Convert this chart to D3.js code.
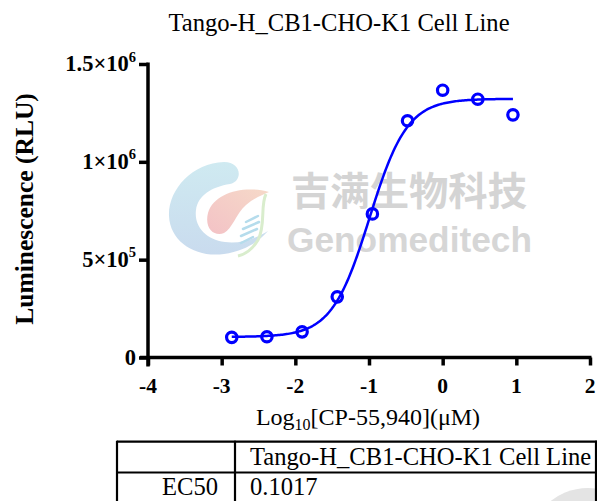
<!DOCTYPE html>
<html>
<head>
<meta charset="utf-8">
<script src="https://cdn.jsdelivr.net/npm/d3@7"></script>
<style>
  html, body { margin: 0; padding: 0; background: #ffffff; }
  svg { display: block; }
</style>
</head>
<body>
<svg id="chart" width="597" height="501"></svg>
<script>
// ---------------- data ----------------
const chartTitle = "Tango-H_CB1-CHO-K1 Cell Line";
const logConc = [-2.863, -2.386, -1.908, -1.431, -0.954, -0.477, 0.0, 0.477, 0.954];
const rlu = [103000, 106000, 131000, 310000, 734000, 1210000, 1366000, 1320000, 1240000];
// fitted 4PL parameters
const fitBottom = 105000;
const fitTop = 1322000;
const fitEC50 = 0.1017;
const fitHill = 1.7;
const xTickValues = [-4, -3, -2, -1, 0, 1, 2];
const xTickLabels = ["-4", "-3", "-2", "-1", "0", "1", "2"];
const yTickValues = [0, 500000, 1000000, 1500000];
const yTickMantissa = ["0", "5×10", "1×10", "1.5×10"];
const yTickExponent = ["", "5", "6", "6"];
const tableHeader = ["", "Tango-H_CB1-CHO-K1 Cell Line"];
const tableRow = ["EC50", "0.1017"];

// ---------------- setup ----------------
const svg = d3.select("#chart");
const serif = "'Liberation Serif', 'Times New Roman', serif";
const x = d3.scaleLinear().domain([-4, 2]).range([148, 590]);
const y = d3.scaleLinear().domain([0, 1500000]).range([357.5, 64]);

// ---------------- watermark ----------------
const wm = svg.append("g").attr("class", "watermark");
const defs = svg.append("defs");
const gBlue = defs.append("linearGradient").attr("id", "gblue").attr("x1", 0).attr("y1", 0).attr("x2", 0).attr("y2", 1);
gBlue.append("stop").attr("offset", "0%").attr("stop-color", "#cfeaf1");
gBlue.append("stop").attr("offset", "100%").attr("stop-color", "#c9dbee");
const gPink = defs.append("linearGradient").attr("id", "gpink").attr("x1", 1).attr("y1", 0).attr("x2", 0).attr("y2", 1);
gPink.append("stop").attr("offset", "0%").attr("stop-color", "#f6d9c8");
gPink.append("stop").attr("offset", "100%").attr("stop-color", "#f3c2c6");

wm.append("path")
  .attr("d", "M 224 162 C 192 163 168 190 169 216 C 170 242 196 258 224 254 C 245 251 258 242 268 231 C 255 239 240 244 225 242 C 205 239 194 226 196 210 C 198 195 212 187 230 184 C 243 181 242 162 224 162 Z")
  .attr("fill", "url(#gblue)");
wm.append("path")
  .attr("d", "M 269 192 C 245 185 214 192 208 213 C 204 229 215 237 224 233 C 232 229 236 214 246 205 C 254 198 262 195 269 192 Z")
  .attr("fill", "url(#gpink)");
wm.append("path")
  .attr("d", "M 266 194 C 260 206 266 225 258 240 C 252 250 246 254 238 256")
  .attr("fill", "none").attr("stroke", "#d9edcd").attr("stroke-width", 3);
[[246, 222, 258, 216], [243, 229, 259, 222], [241, 236, 257, 229], [241, 243, 253, 237]].forEach(s => {
  wm.append("line").attr("x1", s[0]).attr("y1", s[1]).attr("x2", s[2]).attr("y2", s[3])
    .attr("stroke", "#b5dcec").attr("stroke-width", 2.5).attr("stroke-linecap", "round");
});
wm.append("text")
  .attr("x", 291).attr("y", 205)
  .attr("font-family", "'Noto Sans CJK SC', sans-serif").attr("font-weight", "bold")
  .attr("font-size", 39).attr("fill", "#d4d4d4")
  .attr("textLength", 236).attr("lengthAdjust", "spacingAndGlyphs")
  .text("吉满生物科技");
wm.append("text")
  .attr("x", 287).attr("y", 251.5)
  .attr("font-family", "'Liberation Sans', Arial, sans-serif").attr("font-weight", "bold")
  .attr("font-size", 35).attr("fill", "#d6d6d6")
  .attr("textLength", 245).attr("lengthAdjust", "spacingAndGlyphs")
  .text("Genomeditech");
// grey partial disc at bottom right
wm.append("circle").attr("cx", 588).attr("cy", 548).attr("r", 60).attr("fill", "#e4e4e4");

// ---------------- title ----------------
svg.append("text")
  .attr("x", 339).attr("y", 31)
  .attr("text-anchor", "middle")
  .attr("font-family", serif).attr("font-size", 24.6).attr("fill", "#000")
  .text(chartTitle);

// ---------------- axes ----------------
const xAxis = d3.axisBottom(x).tickValues(xTickValues).tickSize(8).tickSizeOuter(0).tickFormat("");
const gx = svg.append("g").attr("transform", `translate(0,${y(0)})`).call(xAxis);
gx.select(".domain").attr("stroke", "#000").attr("stroke-width", 3.5).attr("d", `M${x(-4) - 8},0H${x(2) + 1.5}`);
gx.selectAll(".tick line").attr("stroke", "#000").attr("stroke-width", 3.5);

const yAxis = d3.axisLeft(y).tickValues(yTickValues).tickSize(9).tickSizeOuter(0).tickFormat("");
const gy = svg.append("g").attr("transform", `translate(${x(-4)},0)`).call(yAxis);
gy.select(".domain").attr("stroke", "#000").attr("stroke-width", 3.5).attr("d", `M0,${y(1500000) - 1.5}V${y(0) + 9}`);
gy.selectAll(".tick line").attr("stroke", "#000").attr("stroke-width", 3.5);

// x tick labels
svg.append("g").selectAll("text").data(xTickValues).join("text")
  .attr("x", d => x(d)).attr("y", 393)
  .attr("text-anchor", "middle")
  .attr("font-family", serif).attr("font-weight", "bold").attr("font-size", 21.5)
  .text((d, i) => xTickLabels[i]);

// y tick labels
const ylab = svg.append("g").selectAll("text").data(yTickValues).join("text")
  .attr("x", 136).attr("y", d => y(d) + 7)
  .attr("text-anchor", "end")
  .attr("font-family", serif).attr("font-weight", "bold").attr("font-size", 22.5);
ylab.append("tspan").text((d, i) => yTickMantissa[i]);
ylab.append("tspan").attr("font-size", 14.5).attr("dy", -9.5).text((d, i) => yTickExponent[i]);

// axis titles
const xt = svg.append("text")
  .attr("x", 368).attr("y", 425)
  .attr("text-anchor", "middle")
  .attr("font-family", serif).attr("font-size", 24);
xt.append("tspan").text("Log");
xt.append("tspan").attr("font-size", 16).attr("dy", 5).text("10");
xt.append("tspan").attr("dy", -5).text("[CP-55,940](μM)");

svg.append("text")
  .attr("transform", "translate(33,209) rotate(-90)")
  .attr("text-anchor", "middle")
  .attr("font-family", serif).attr("font-weight", "bold").attr("font-size", 25.5)
  .text("Luminescence (RLU)");

// ---------------- fitted curve ----------------
const logEC50 = Math.log10(fitEC50);
const fourPL = v => fitBottom + (fitTop - fitBottom) / (1 + Math.pow(10, (logEC50 - v) * fitHill));
const xMin = d3.min(logConc), xMax = d3.max(logConc);
const curvePts = d3.range(0, 201).map(i => {
  const v = xMin + (xMax - xMin) * i / 200;
  return [v, fourPL(v)];
});
svg.append("path")
  .datum(curvePts)
  .attr("fill", "none").attr("stroke", "#0000ff").attr("stroke-width", 2.5)
  .attr("d", d3.line().x(d => x(d[0])).y(d => y(d[1])));

// ---------------- points ----------------
svg.append("g").selectAll("circle").data(logConc).join("circle")
  .attr("cx", d => x(d)).attr("cy", (d, i) => y(rlu[i]))
  .attr("r", 5.2)
  .attr("fill", "none").attr("stroke", "#0000ff").attr("stroke-width", 3.2);

// ---------------- table ----------------
const tbl = svg.append("g").attr("stroke", "#000").attr("stroke-width", 2.2);
const tTop = 441.7, tMid = 472.5, tL = 117, tDiv = 235, tR = 596;
tbl.append("line").attr("x1", tL).attr("x2", tR + 1).attr("y1", tTop).attr("y2", tTop);
tbl.append("line").attr("x1", tL).attr("x2", tR + 1).attr("y1", tMid).attr("y2", tMid);
tbl.append("line").attr("x1", tL).attr("x2", tL).attr("y1", tTop - 1).attr("y2", 505);
tbl.append("line").attr("x1", tDiv).attr("x2", tDiv).attr("y1", tTop - 1).attr("y2", 505);
tbl.append("line").attr("x1", tR).attr("x2", tR).attr("y1", tTop - 1).attr("y2", 505);

const tt = svg.append("g").attr("font-family", serif).attr("font-size", 24.6).attr("fill", "#000");
tt.append("text").attr("x", 250).attr("y", 465).text(tableHeader[1]);
tt.append("text").attr("x", 218).attr("y", 495).attr("text-anchor", "end").text(tableRow[0]);
tt.append("text").attr("x", 250).attr("y", 495).text(tableRow[1]);
</script>
</body>
</html>
